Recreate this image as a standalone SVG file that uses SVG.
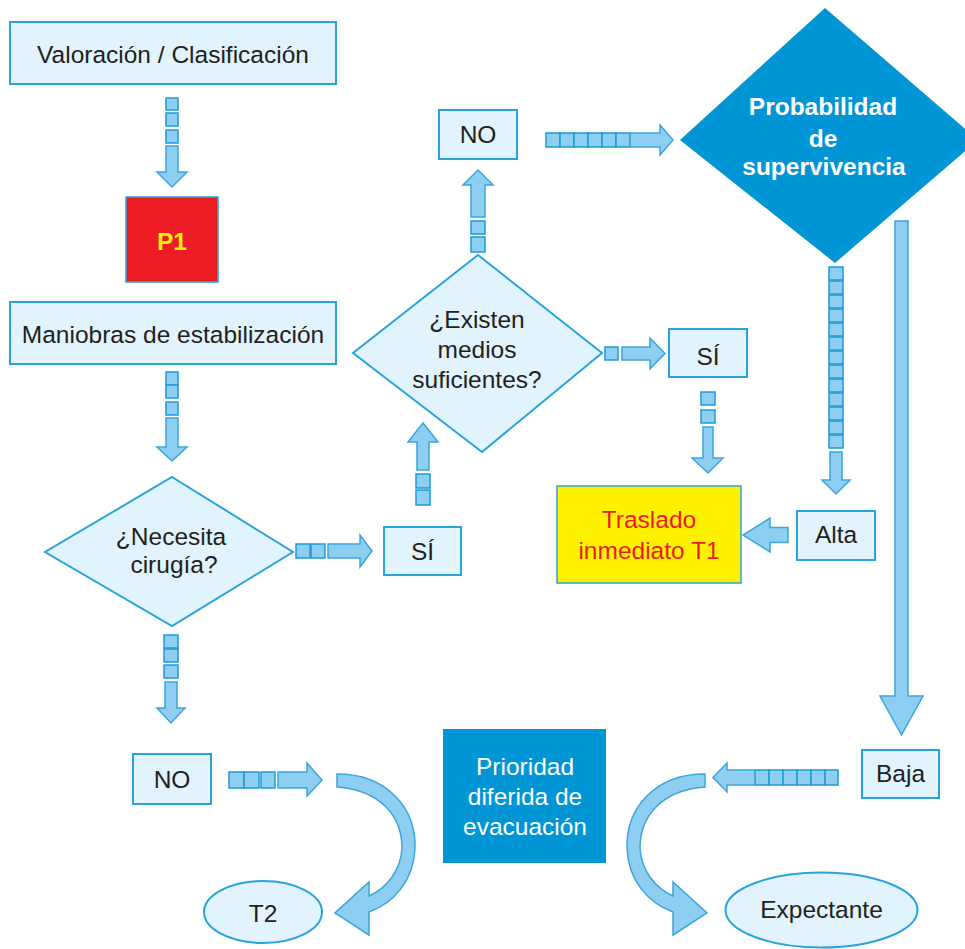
<svg xmlns="http://www.w3.org/2000/svg" width="965" height="949" viewBox="0 0 965 949">
<style>
.box{fill:#e1f3fd;stroke:#2aa3dc;stroke-width:2}
.dark{fill:#0096d6}
.t{font-family:"Liberation Sans",Arial,sans-serif;font-size:24.5px;fill:#231f20;text-anchor:middle}
.w{fill:#ffffff}
.b{font-weight:bold}
.sq{fill:#8ecff1;stroke:#1b9bd7;stroke-width:1.5}
.ar{fill:#8ecff1;stroke:#3aa6dc;stroke-width:1.5;stroke-linejoin:miter}
</style>
<rect width="965" height="949" fill="#ffffff"/>
<g id="connectors">
  <!-- Valoracion -> P1 -->
  <rect class="sq" x="166" y="98" width="12" height="12"/>
  <rect class="sq" x="166" y="113" width="12" height="13"/>
  <rect class="sq" x="166" y="130" width="12" height="13"/>
  <polygon class="ar" points="166,146 178,146 178,172 187,172 172,187 157,172 166,172"/>
  <!-- Maniobras -> Necesita -->
  <rect class="sq" x="166" y="372" width="12" height="13"/>
  <rect class="sq" x="166" y="385" width="12" height="13"/>
  <rect class="sq" x="166" y="402" width="12" height="13"/>
  <polygon class="ar" points="166,418 178,418 178,447 187,447 172,461 157,447 166,447"/>
  <!-- Necesita -> NO -->
  <rect class="sq" x="164" y="635" width="14" height="13"/>
  <rect class="sq" x="164" y="649" width="14" height="13"/>
  <rect class="sq" x="164" y="665" width="14" height="13"/>
  <polygon class="ar" points="165,682 177,682 177,708 185,708 171,723 157,708 165,708"/>
  <!-- Necesita -> SI -->
  <rect class="sq" x="296" y="544" width="14" height="14"/>
  <rect class="sq" x="311" y="544" width="14" height="14"/>
  <polygon class="ar" points="328,544 360,544 360,535 372,551 360,567 360,558 328,558"/>
  <!-- SI -> Existen -->
  <rect class="sq" x="416" y="474" width="14" height="14"/>
  <rect class="sq" x="416" y="490" width="14" height="15"/>
  <polygon class="ar" points="417,470 429,470 429,442 438,442 423,423 408,442 417,442"/>
  <!-- Existen -> NO -->
  <rect class="sq" x="471" y="221" width="14" height="13"/>
  <rect class="sq" x="471" y="237" width="14" height="15"/>
  <polygon class="ar" points="471,217 485,217 485,185 493,185 478,170 463,185 471,185"/>
  <!-- NO -> Probabilidad -->
  <rect class="sq" x="546" y="133" width="14" height="14"/>
  <rect class="sq" x="560" y="133" width="14" height="14"/>
  <rect class="sq" x="574" y="133" width="14" height="14"/>
  <rect class="sq" x="588" y="133" width="14" height="14"/>
  <rect class="sq" x="602" y="133" width="14" height="14"/>
  <rect class="sq" x="616" y="133" width="14" height="14"/>
  <polygon class="ar" points="630,133 660,133 660,125 673,140 660,155 660,147 630,147"/>
  <!-- Existen -> SI -->
  <rect class="sq" x="605" y="347" width="13" height="13"/>
  <polygon class="ar" points="622,347 650,347 650,338 665,353.5 650,369 650,360 622,360"/>
  <!-- SI -> Traslado -->
  <rect class="sq" x="701" y="392" width="14" height="13"/>
  <rect class="sq" x="701" y="410" width="14" height="13"/>
  <polygon class="ar" points="703,427 713,427 713,458 723,458 708,473 692,458 703,458"/>
  <!-- Probabilidad -> Alta -->
  <rect class="sq" x="829" y="267" width="14" height="13"/>
  <rect class="sq" x="829" y="281" width="14" height="13"/>
  <rect class="sq" x="829" y="295" width="14" height="13"/>
  <rect class="sq" x="829" y="309" width="14" height="13"/>
  <rect class="sq" x="829" y="323" width="14" height="13"/>
  <rect class="sq" x="829" y="337" width="14" height="13"/>
  <rect class="sq" x="829" y="351" width="14" height="13"/>
  <rect class="sq" x="829" y="365" width="14" height="13"/>
  <rect class="sq" x="829" y="379" width="14" height="13"/>
  <rect class="sq" x="829" y="393" width="14" height="13"/>
  <rect class="sq" x="829" y="407" width="14" height="13"/>
  <rect class="sq" x="829" y="421" width="14" height="13"/>
  <rect class="sq" x="829" y="435" width="14" height="13"/>
  <polygon class="ar" points="830,452 842,452 842,480 850,480 836,494 822,480 830,480"/>
  <!-- Alta -> Traslado -->
  <polygon class="ar" points="788,527.5 770,527.5 770,518 743,535 770,552 770,542.5 788,542.5"/>
  <!-- Probabilidad -> Baja -->
  <polygon class="ar" points="895,221 908,221 908,696 923,696 901.5,735 880,696 895,696"/>
  <!-- Baja -> curved -->
  <rect class="sq" x="755" y="770" width="14" height="15"/>
  <rect class="sq" x="769" y="770" width="14" height="15"/>
  <rect class="sq" x="783" y="770" width="14" height="15"/>
  <rect class="sq" x="797" y="770" width="14" height="15"/>
  <rect class="sq" x="811" y="770" width="14" height="15"/>
  <rect class="sq" x="825" y="770" width="13" height="15"/>
  <polygon class="ar" points="755,770 727,770 727,763 713,777.5 727,792 727,785 755,785"/>
  <path id="curveR" class="ar" d="M705,774 C655,774 626,808 627,848 C628,880 648,903 673,912 L673,935 L707,913 L673,882 L673,896 C655,888 641,870 640,848 C640,815 663,790 705,787 Z"/>
  <!-- NO -> curved -->
  <rect class="sq" x="229" y="772" width="15" height="16"/>
  <rect class="sq" x="244" y="772" width="15" height="16"/>
  <rect class="sq" x="261" y="772" width="14" height="16"/>
  <polygon class="ar" points="278,772 307,772 307,763 322,780 307,796 307,788 278,788"/>
  <path class="ar" transform="translate(1042,0) scale(-1,1)" d="M705,774 C655,774 626,808 627,848 C628,880 648,903 673,912 L673,935 L707,913 L673,882 L673,896 C655,888 641,870 640,848 C640,815 663,790 705,787 Z"/>
</g>
<g id="valoracion">
  <rect class="box" x="10" y="22" width="326" height="62"/>
  <text class="t" x="173" y="63">Valoración / Clasificación</text>
</g>
<g id="p1">
  <rect x="126" y="197" width="92" height="85" fill="#ed1c24" stroke="#2aa3dc" stroke-width="1.5"/>
  <text class="t b" x="172" y="250" style="fill:#fff200">P1</text>
</g>
<g id="maniobras">
  <rect class="box" x="10" y="302" width="326" height="62"/>
  <text class="t" x="173" y="343">Maniobras de estabilización</text>
</g>
<g id="necesita">
  <polygon class="box" points="172,477 293,552 172,626 45,552"/>
  <text class="t" x="171" y="545">¿Necesita</text>
  <text class="t" x="174" y="573">cirugía?</text>
</g>
<g id="si1">
  <rect class="box" x="384" y="527" width="77" height="48"/>
  <text class="t" x="422.5" y="560">SÍ</text>
</g>
<g id="existen">
  <polygon class="box" points="478,255 602,353 482,452 353,353"/>
  <text class="t" x="477" y="328">¿Existen</text>
  <text class="t" x="477" y="358">medios</text>
  <text class="t" x="477" y="388">suficientes?</text>
</g>
<g id="no1">
  <rect class="box" x="439" y="110" width="78" height="49"/>
  <text class="t" x="478" y="143">NO</text>
</g>
<g id="probabilidad">
  <polygon class="dark" points="825,8 978,140 835,263 680,140"/>
  <text class="t w b" x="823" y="115">Probabilidad</text>
  <text class="t w b" x="823" y="147">de</text>
  <text class="t w b" x="824" y="175">supervivencia</text>
</g>
<g id="si2">
  <rect class="box" x="669" y="329" width="78" height="48"/>
  <text class="t" x="708" y="365">SÍ</text>
</g>
<g id="traslado">
  <rect x="557" y="486" width="184" height="97" fill="#fff200" stroke="#2aa3dc" stroke-width="1.5"/>
  <text class="t" x="649" y="528" style="fill:#ed1c24">Traslado</text>
  <text class="t" x="649" y="559" style="fill:#ed1c24">inmediato T1</text>
</g>
<g id="alta">
  <rect class="box" x="797" y="511" width="78" height="49"/>
  <text class="t" x="836" y="543">Alta</text>
</g>
<g id="no2">
  <rect class="box" x="133" y="754" width="78" height="50"/>
  <text class="t" x="172" y="788">NO</text>
</g>
<g id="baja">
  <rect class="box" x="862" y="750" width="77" height="48"/>
  <text class="t" x="900.5" y="782">Baja</text>
</g>
<g id="prioridad">
  <rect class="dark" x="443" y="729" width="163" height="134"/>
  <text class="t w" x="525" y="775">Prioridad</text>
  <text class="t w" x="525" y="805">diferida de</text>
  <text class="t w" x="525" y="835">evacuación</text>
</g>
<g id="t2">
  <ellipse class="box" cx="263" cy="912" rx="59" ry="31"/>
  <text class="t" x="263" y="922">T2</text>
</g>
<g id="expectante">
  <ellipse class="box" cx="821.5" cy="910" rx="96" ry="37.5"/>
  <text class="t" x="821.5" y="918">Expectante</text>
</g>
</svg>
